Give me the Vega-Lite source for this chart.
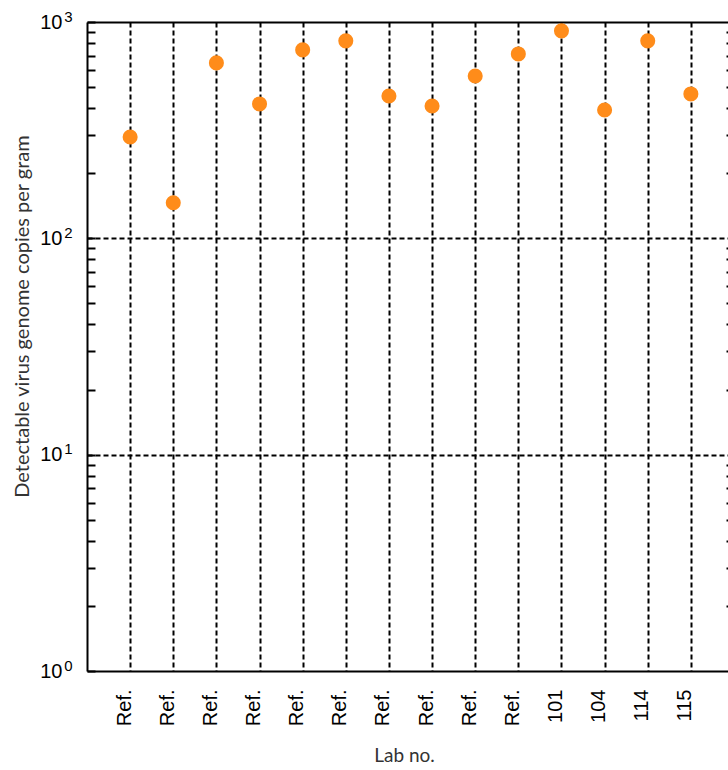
{
  "$schema": "https://vega.github.io/schema/vega-lite/v6.json",
  "width": 641,
  "height": 649,
  "autosize": {"type": "none"},
  "padding": {"left": 87, "top": 22, "right": 0, "bottom": 99},
  "background": "white",
  "view": {"stroke": null},
  "data": {
    "values": [
      {"lab": "Ref. 1", "copies": 294},
      {"lab": "Ref. 2", "copies": 146},
      {"lab": "Ref. 3", "copies": 647},
      {"lab": "Ref. 4", "copies": 418},
      {"lab": "Ref. 5", "copies": 743},
      {"lab": "Ref. 6", "copies": 818},
      {"lab": "Ref. 7", "copies": 455},
      {"lab": "Ref. 8", "copies": 409},
      {"lab": "Ref. 9", "copies": 563},
      {"lab": "Ref. 10", "copies": 712},
      {"lab": "101", "copies": 910},
      {"lab": "104", "copies": 392},
      {"lab": "114", "copies": 818},
      {"lab": "115", "copies": 465}
    ]
  },
  "layer": [
    {
      "mark": {"type": "point", "filled": true, "size": 227, "opacity": 1, "color": "#ff8c1a", "strokeWidth": 0},
      "encoding": {
        "x": {
          "field": "lab", "type": "nominal", "sort": null,
          "scale": {"type": "point", "range": [0, 647], "padding": 1},
          "axis": {
            "orient": "bottom",
            "title": "Lab no.",
            "labelExpr": "indexof(datum.value, 'Ref') == 0 ? 'Ref.' : datum.value",
            "labelAngle": -90,
            "labelBaseline": "alphabetic",
            "labelAlign": "right",
            "labelFont": "Liberation Sans",
            "labelFontSize": 20,
            "labelColor": "black",
            "labelPadding": 18,
            "labelOverlap": false,
            "ticks": false,
            "domainColor": "black",
            "domainWidth": 2,
            "grid": true,
            "gridColor": "black",
            "gridWidth": 2,
            "gridDash": [5, 3],
            "gridOpacity": 1,
            "titleFont": "Lato",
            "titleFontSize": 19,
            "titleFontWeight": "normal",
            "titleColor": "#333333",
            "titleX": 317,
            "titleY": 90,
            "titleBaseline": "alphabetic",
            "titleAlign": "center"
          }
        },
        "y": {
          "field": "copies", "type": "quantitative",
          "scale": {"type": "log", "domain": [1, 1000], "nice": false},
          "axis": {
            "orient": "left",
            "title": "Detectable virus genome copies per gram",
            "values": [1, 2, 3, 4, 5, 6, 7, 8, 9, 10, 20, 30, 40, 50, 60, 70, 80, 90, 100, 200, 300, 400, 500, 600, 700, 800, 900, 1000],
            "labelExpr": "(datum.value == 1 || datum.value == 10 || datum.value == 100 || datum.value == 1000) ? '10' : ''",
            "labelFont": "Liberation Sans",
            "labelFontSize": 20,
            "labelColor": "black",
            "labelPadding": 33,
            "labelOverlap": false,
            "labelBaseline": "middle",
            "tickSize": -8,
            "tickColor": "black",
            "tickWidth": 2,
            "domainColor": "black",
            "domainWidth": 2,
            "grid": true,
            "gridColor": "black",
            "gridWidth": 2,
            "gridDash": [5, 3],
            "gridOpacity": {"condition": {"test": "datum.value == 10 || datum.value == 100", "value": 1}, "value": 0},
            "titleFont": "Lato",
            "titleFontSize": 20,
            "titleFontWeight": "normal",
            "titleColor": "#333333",
            "titleAngle": -90,
            "titleX": -59,
            "titleY": 294,
            "titleBaseline": "alphabetic",
            "titleAlign": "center"
          }
        }
      }
    },
    {
      "mark": {"type": "point", "opacity": 0},
      "encoding": {
        "x": {
          "field": "lab", "type": "nominal", "sort": null,
          "scale": {"type": "point", "range": [0, 647], "padding": 1},
          "axis": {"orient": "top", "title": null, "labels": false, "ticks": false, "grid": false, "domainColor": "black", "domainWidth": 2}
        },
        "y": {
          "field": "copies", "type": "quantitative",
          "scale": {"type": "log", "domain": [1, 1000], "nice": false},
          "axis": {
            "orient": "right", "title": null, "labels": false, "grid": false,
            "values": [2, 3, 4, 5, 6, 7, 8, 9, 20, 30, 40, 50, 60, 70, 80, 90, 200, 300, 400, 500, 600, 700, 800, 900],
            "tickSize": -8, "tickColor": "black", "tickWidth": 2,
            "offset": 6, "domainColor": "black", "domainWidth": 2
          }
        }
      }
    },
    {
      "mark": {"type": "point", "opacity": 0},
      "encoding": {
        "y": {
          "field": "copies", "type": "quantitative",
          "scale": {"type": "log", "domain": [1, 1000], "nice": false},
          "axis": {
            "orient": "left", "title": null, "grid": false, "ticks": false, "domain": false,
            "values": [1, 10, 100, 1000],
            "labelExpr": "datum.value == 1 ? '0' : datum.value == 10 ? '1' : datum.value == 100 ? '2' : '3'",
            "labelFont": "Liberation Sans",
            "labelFontSize": 15,
            "labelColor": "black",
            "labelPadding": 15,
            "labelAlign": "right",
            "labelBaseline": "alphabetic",
            "labelOffset": -1,
            "labelOverlap": false
          }
        }
      }
    }
  ],
  "resolve": {"axis": {"x": "independent", "y": "independent"}}
}
